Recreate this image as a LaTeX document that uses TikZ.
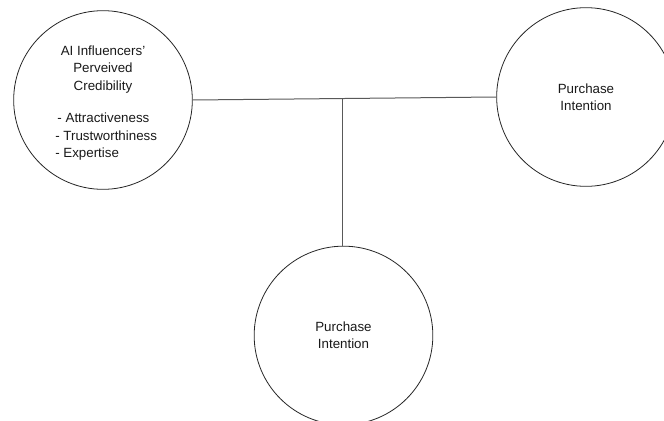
\documentclass[tikz,border=0pt]{standalone}
\usepackage{fontspec}
\setmainfont{Liberation Sans}
\usetikzlibrary{calc}
\begin{document}
\begin{tikzpicture}[x=0.75pt,y=-0.75pt,
  bubble/.style={draw=black!85,line width=0.6pt,circle,minimum size=134pt,inner sep=0pt,
    font=\fontsize{10}{13}\selectfont,align=center,text=black!90},
  txt/.style={font=\fontsize{10}{13.1}\selectfont,inner sep=0pt,text=black!90},
  link/.style={draw=black!65,line width=0.75pt}]
\useasboundingbox (0,0) rectangle (664,421);
\clip (0,0) rectangle (664,421);
\node[bubble] (L) at (103,100) {};
\node[bubble] (R) at (586,97) {Purchase\\Intention};
\node[bubble] (B) at (343.5,335.5) {Purchase\\Intention};
\node[txt,align=center] (Lt) at (103,69.5) {AI Influencers'\\Perveived\\Credibility};
\node[txt,align=left,anchor=west] (Ll) at (55,137) {\,- Attractiveness\\- Trustworthiness\\- Expertise};
\draw[link] (L.east) -- (R.west);
\coordinate (J) at ($(L.east)!0.495!(R.west)$);
\draw[link] (J) -- (J |- B.north);
\end{tikzpicture}
\end{document}
